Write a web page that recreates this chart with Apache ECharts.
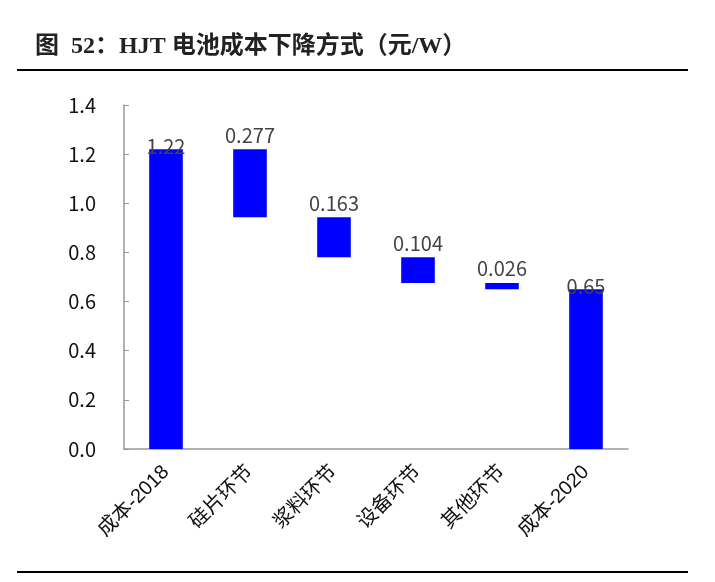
<!DOCTYPE html>
<html>
<head>
<meta charset="utf-8">
<script src="https://cdn.jsdelivr.net/npm/echarts@6/dist/echarts.min.js"></script>
<style>
  html, body { margin: 0; padding: 0; background: #fff; }
  #chart { width: 715px; height: 582px; }
</style>
</head>
<body>
<div id="chart"></div>
<script>
const categories = ['成本-2018', '硅片环节', '浆料环节', '设备环节', '其他环节', '成本-2020']
const values = [1.22, 0.277, 0.163, 0.104, 0.026, 0.65]
const valueLabels = ['1.22', '0.277', '0.163', '0.104', '0.026', '0.65']
const yTicks = [0, 0.2, 0.4, 0.6, 0.8, 1.0, 1.2, 1.4]

// waterfall base: totals start at 0, steps hang from the running total
const bases = []
let running = values[0]
values.forEach((v, i) => {
  if (i === 0 || i === values.length - 1) {
    bases.push(0)
  } else {
    running -= v
    bases.push(running)
  }
})

const labelFont = '"Noto Sans CJK SC", sans-serif'
const catFont = '"Liberation Sans", "Noto Sans CJK SC", sans-serif'

const option = {
  animation: false,
  grid: { left: 124, right: 87, top: 105, bottom: 133 },
  graphic: [
    {
      type: 'text', left: 35, top: 35,
      style: {
        text: '图  52：HJT 电池成本下降方式（元/W）',
        font: 'bold 24px "Liberation Serif", "Noto Sans CJK SC", serif',
        fill: '#222'
      }
    },
    { type: 'rect', shape: { x: 17, y: 69, width: 671, height: 2 }, style: { fill: '#000' } },
    { type: 'rect', shape: { x: 17, y: 571, width: 671, height: 2 }, style: { fill: '#000' } }
  ],
  xAxis: {
    type: 'category',
    data: categories,
    axisLine: { lineStyle: { color: '#999', width: 1.5 } },
    axisTick: { inside: true, length: 6, lineStyle: { color: '#999' } },
    axisLabel: {
      rotate: 45, margin: 20, interval: 0,
      fontSize: 20, color: '#111', fontFamily: catFont
    }
  },
  yAxis: {
    type: 'value',
    min: 0, max: 1.4, interval: 0.2,
    splitLine: { show: false },
    axisLine: { show: true, lineStyle: { color: '#999', width: 1.5 } },
    axisTick: { show: true, inside: true, length: 5, lineStyle: { color: '#999' } },
    axisLabel: {
      fontSize: 20, color: '#111', margin: 28, fontFamily: labelFont,
      formatter: v => yTicks.includes(+v.toFixed(1)) ? v.toFixed(1) : ''
    }
  },
  series: [
    {
      type: 'bar', stack: 'w', barWidth: '40%',
      itemStyle: { color: 'transparent' },
      data: bases, silent: true
    },
    {
      type: 'bar', stack: 'w', barWidth: '40%',
      itemStyle: { color: '#0000ff' },
      data: values.map((v, i) => ({
        value: v,
        label: {
          show: true, position: 'top',
          distance: (i === 0 || i === values.length - 1) ? -7 : 4,
          formatter: valueLabels[i],
          fontSize: 20, color: '#444', fontFamily: labelFont
        }
      }))
    }
  ]
}

echarts.init(document.getElementById('chart')).setOption(option)
</script>
</body>
</html>
